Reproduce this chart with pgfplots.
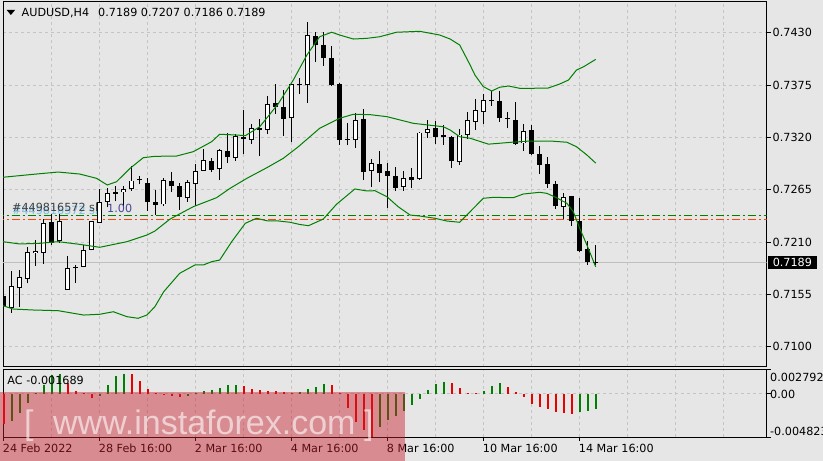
\documentclass[border=0pt]{standalone}
\usepackage{pgfplots}
\pgfplotsset{compat=1.18}
\usepackage{pgfplotstable}
\usepackage{fontspec}
\setmainfont{DejaVu Sans}
\newfontfamily\wmfont{Liberation Sans}

\definecolor{bg}{RGB}{230,230,230}
\definecolor{gridc}{RGB}{196,196,196}
\definecolor{bbgreen}{RGB}{0,128,0}
\definecolor{acgreen}{RGB}{0,128,0}
\definecolor{acred}{RGB}{235,0,0}
\definecolor{slred}{RGB}{255,69,0}
\definecolor{wmred}{RGB}{200,30,40}
\definecolor{pricegray}{RGB}{192,192,192}
\definecolor{lblue}{RGB}{110,185,235}
\definecolor{dblue}{RGB}{70,70,150}

% AUDUSD H4 candles: bar index, open, high, low, close
\pgfplotstableread{
x o h l c
0 0.71526 0.71617 0.70944 0.71438
1 0.71410 0.71796 0.71358 0.71631
2 0.71620 0.71806 0.71421 0.71730
3 0.71719 0.72045 0.71667 0.71992
4 0.71992 0.72118 0.71852 0.72003
5 0.71992 0.72342 0.71873 0.72297
6 0.72308 0.72392 0.72069 0.72097
7 0.72114 0.72392 0.72093 0.72314
8 0.71604 0.71950 0.71600 0.71824
9 0.71831 0.71859 0.71673 0.71835
10 0.71848 0.72069 0.71835 0.72013
11 0.72024 0.72321 0.72013 0.72314
12 0.72308 0.72654 0.72300 0.72514
13 0.72531 0.72665 0.72465 0.72612
14 0.72612 0.72686 0.72531 0.72619
15 0.72626 0.72689 0.72455 0.72654
16 0.72665 0.72902 0.72637 0.72742
17 0.72755 0.72797 0.72707 0.72760
18 0.72717 0.72770 0.72430 0.72524
19 0.72518 0.72647 0.72384 0.72497
20 0.72500 0.72770 0.72482 0.72749
21 0.72742 0.72836 0.72629 0.72692
22 0.72686 0.72721 0.72440 0.72577
23 0.72566 0.72749 0.72524 0.72728
24 0.72713 0.72920 0.72479 0.72844
25 0.72854 0.73078 0.72850 0.72959
26 0.72952 0.72980 0.72833 0.72865
27 0.72871 0.73075 0.72755 0.73064
28 0.73057 0.73246 0.72934 0.72997
29 0.72991 0.73236 0.72955 0.73211
30 0.73204 0.73485 0.73022 0.73186
31 0.73180 0.73341 0.73134 0.73296
32 0.73285 0.73390 0.73008 0.73291
33 0.73285 0.73635 0.73239 0.73548
34 0.73558 0.73761 0.73449 0.73523
35 0.73516 0.73695 0.73218 0.73401
36 0.73411 0.73761 0.73148 0.73751
37 0.73751 0.73827 0.73659 0.73754
38 0.73754 0.74416 0.73565 0.74273
39 0.74263 0.74311 0.73996 0.74178
40 0.74171 0.74311 0.73954 0.74038
41 0.74034 0.74161 0.73740 0.73751
42 0.73751 0.73775 0.73120 0.73176
43 0.73176 0.73351 0.73120 0.73183
44 0.73180 0.73460 0.73092 0.73380
45 0.73390 0.73495 0.72752 0.72839
46 0.72850 0.72973 0.72682 0.72928
47 0.72917 0.73057 0.72734 0.72829
48 0.72847 0.72931 0.72461 0.72797
49 0.72791 0.72889 0.72637 0.72671
50 0.72682 0.72847 0.72637 0.72770
51 0.72784 0.72878 0.72671 0.72755
52 0.72766 0.73260 0.72755 0.73246
53 0.73254 0.73380 0.73197 0.73285
54 0.73296 0.73372 0.73134 0.73207
55 0.73225 0.73330 0.73123 0.73207
56 0.73204 0.73215 0.72882 0.72955
57 0.72945 0.73285 0.72910 0.73225
58 0.73233 0.73470 0.73180 0.73380
59 0.73369 0.73604 0.73278 0.73485
60 0.73470 0.73656 0.73344 0.73590
61 0.73586 0.73688 0.73533 0.73590
62 0.73579 0.73688 0.73365 0.73407
63 0.73401 0.73464 0.73296 0.73397
64 0.73380 0.73572 0.73120 0.73138
65 0.73141 0.73341 0.73057 0.73264
66 0.73275 0.73330 0.73012 0.73033
67 0.73022 0.73113 0.72818 0.72917
68 0.72917 0.72994 0.72671 0.72717
69 0.72707 0.72742 0.72451 0.72486
70 0.72476 0.72616 0.72342 0.72566
71 0.72581 0.72585 0.72272 0.72329
72 0.72321 0.72563 0.71999 0.72009
73 0.72024 0.72111 0.71859 0.71894
74 0.71890 0.72070 0.71860 0.71890
}\candles

% Bollinger bands
\pgfplotstableread{
x y
-0.1 0.72781
3.7 0.72812
6.8 0.72836
9.5 0.72815
11.6 0.72770
12.95 0.72700
14.1 0.72734
15.8 0.72875
17.45 0.72987
18.9 0.73001
21.6 0.73004
23.7 0.73050
26.0 0.73155
27.0 0.73233
29.1 0.73225
30.2 0.73218
32.0 0.73312
34.3 0.73551
36.2 0.73803
37.9 0.74066
39.5 0.74258
41.0 0.74305
42.0 0.74276
43.7 0.74234
45.4 0.74241
47.0 0.74258
49.1 0.74305
52.0 0.74315
54.5 0.74276
55.8 0.74234
57.0 0.74171
58.3 0.73961
58.9 0.73856
59.95 0.73733
61.0 0.73688
62.0 0.73727
63.1 0.73740
64.5 0.73716
68.0 0.73717
69.5 0.73761
70.6 0.73803
71.6 0.73908
72.5 0.73943
74.0 0.74020
}\bbup

\pgfplotstableread{
x y
-0.1 0.72104
2.0 0.72080
4.5 0.72087
6.8 0.72104
9.5 0.72076
12.0 0.72045
15.4 0.72104
17.9 0.72174
18.9 0.72216
20.8 0.72342
23.7 0.72472
26.6 0.72566
28.3 0.72665
30.4 0.72770
32.9 0.72882
34.95 0.72980
36.8 0.73100
39.5 0.73296
42.0 0.73401
43.7 0.73443
45.8 0.73439
47.9 0.73418
51.2 0.73348
54.95 0.73312
55.8 0.73278
57.0 0.73207
58.3 0.73191
60.6 0.73129
63.5 0.73149
65.8 0.73162
68.3 0.73162
70.4 0.73149
71.6 0.73102
72.9 0.73015
74.0 0.72930
}\bbmid

\pgfplotstableread{
x y
-0.1 0.71431
1.2 0.71396
3.7 0.71386
6.8 0.71379
10.0 0.71333
12.0 0.71341
13.7 0.71368
15.4 0.71316
16.8 0.71299
17.9 0.71333
18.9 0.71421
20.0 0.71578
22.0 0.71772
23.9 0.71859
24.95 0.71859
26.0 0.71894
27.0 0.71911
28.5 0.72104
30.2 0.72297
31.6 0.72350
32.9 0.72324
34.1 0.72324
35.8 0.72308
37.0 0.72285
38.1 0.72272
39.95 0.72342
41.6 0.72497
43.9 0.72658
45.4 0.72637
46.4 0.72640
47.9 0.72577
49.3 0.72472
50.8 0.72384
52.0 0.72374
53.9 0.72350
55.4 0.72321
57.0 0.72308
58.3 0.72419
59.95 0.72560
61.2 0.72570
63.7 0.72566
64.95 0.72605
67.0 0.72623
67.9 0.72612
69.1 0.72566
70.4 0.72507
71.2 0.72419
72.0 0.72245
72.9 0.72069
74.0 0.71840
}\bblow

% Accelerator oscillator: value, g=1 rising (green) / 0 falling (red)
\pgfplotstableread{
x v g
0 -0.00338 0
1 -0.00301 1
2 -0.00218 1
3 -0.00105 1
4 0.00010 1
5 0.00102 1
6 0.00214 1
7 0.00226 1
8 0.00128 0
9 0.00034 0
10 0.00008 0
11 -0.00049 0
12 -0.00020 1
13 0.00102 1
14 0.00203 1
15 0.00226 1
16 0.00224 0
17 0.00147 0
18 0.00053 0
19 0.00005 0
20 -0.00012 0
21 -0.00020 0
22 -0.00035 0
23 -0.00020 1
24 0.00005 1
25 0.00034 1
26 0.00045 1
27 0.00064 1
28 0.00100 1
29 0.00105 1
30 0.00090 0
31 0.00053 0
32 0.00045 0
33 0.00038 0
34 0.00034 0
35 0.00019 0
36 0.00015 0
37 0.00019 1
38 0.00053 1
39 0.00075 1
40 0.00113 1
41 0.00102 0
42 0.00008 0
43 -0.00162 0
44 -0.00312 0
45 -0.00399 0
46 -0.00482 0
47 -0.00368 1
48 -0.00293 1
49 -0.00244 1
50 -0.00188 1
51 -0.00124 1
52 -0.00056 1
53 0.00045 1
54 0.00113 1
55 0.00139 1
56 0.00128 0
57 0.00071 0
58 0.00015 0
59 0.00010 0
60 0.00034 1
61 0.00090 1
62 0.00128 1
63 0.00082 0
64 0.00026 0
65 -0.00038 0
66 -0.00113 0
67 -0.00150 0
68 -0.00169 0
69 -0.00199 0
70 -0.00218 0
71 -0.00222 0
72 -0.00207 1
73 -0.00195 1
74 -0.001689 1
}\actab

\pgfplotsset{
  mt/.style={
    scale only axis, width=763.7pt, anchor=south west,
    xmin=-0.0875, xmax=95.375,
    axis line style={line width=1pt, black},
    xtick={0,6,...,90}, xticklabels={}, xtick style={draw=none},
    yticklabels={}, ytick pos=right, tick align=outside,
    scaled y ticks=false, scaled x ticks=false,
    major tick length=4pt, ytick style={line width=1pt, black},
    grid=major, grid style={gridc, line width=1pt, dash pattern=on 3pt off 3pt},
    clip mode=individual,
  }
}

\begin{document}
\fontsize{11.2}{13}\selectfont
\begin{tikzpicture}[x=1pt,y=1pt]
\useasboundingbox (0,0) rectangle (823,461);
\fill[bg] (0,0) rectangle (823,461);

% price panel
\begin{axis}[mt, at={(3pt,94pt)}, height=365pt,
  ymin=0.70787, ymax=0.74623,
  ytick={0.7100,0.7155,0.7210,0.7265,0.7320,0.7375,0.7430}]
\addplot[pricegray, line width=1pt, mark=none] coordinates {(-1,0.7189) (96,0.7189)};
\addplot[draw=bbgreen, line width=1pt, mark=none, dash pattern=on 8pt off 3pt on 2pt off 3pt]
  coordinates {(-1,0.72381) (96,0.72381)};
\addplot[draw=slred, line width=1pt, mark=none, dash pattern=on 8pt off 3pt on 2pt off 3pt]
  coordinates {(-1,0.72339) (96,0.72339)};
% wicks
\addplot[black, line width=1pt, mark=none, quiver={u=0, v=\thisrow{h}-\thisrow{l}}]
  table[x=x, y=l] {\candles};
% bodies: black outline, then white inside for rising bars
\addplot[black, line width=5pt, mark=none,
  quiver={u=0, v={abs(\thisrow{c}-\thisrow{o})+0.0001}}]
  table[x=x, y expr={min(\thisrow{o},\thisrow{c})-0.00005}] {\candles};
\addplot[white, line width=3pt, mark=none,
  quiver={u=0, v={(\thisrow{c}>\thisrow{o})*max(\thisrow{c}-\thisrow{o}-0.0001,0)}}]
  table[x=x, y expr={min(\thisrow{o},\thisrow{c})+0.00005}] {\candles};
% Bollinger bands
\addplot[bbgreen, line width=1pt, mark=none] table[x=x, y=y] {\bbup};
\addplot[bbgreen, line width=1pt, mark=none] table[x=x, y=y] {\bbmid};
\addplot[bbgreen, line width=1pt, mark=none] table[x=x, y=y] {\bblow};

\node[anchor=west, inner sep=0pt, xshift=5.8pt] at (axis cs:95.375,0.7430) {0.7430};
\node[anchor=west, inner sep=0pt, xshift=5.8pt] at (axis cs:95.375,0.7375) {0.7375};
\node[anchor=west, inner sep=0pt, xshift=5.8pt] at (axis cs:95.375,0.7320) {0.7320};
\node[anchor=west, inner sep=0pt, xshift=5.8pt] at (axis cs:95.375,0.7265) {0.7265};
\node[anchor=west, inner sep=0pt, xshift=5.8pt] at (axis cs:95.375,0.7210) {0.7210};
\node[anchor=west, inner sep=0pt, xshift=5.8pt] at (axis cs:95.375,0.7155) {0.7155};
\node[anchor=west, inner sep=0pt, xshift=5.8pt] at (axis cs:95.375,0.7100) {0.7100};
\node[anchor=west, fill=black, text=white, inner sep=0pt, minimum width=49pt,
  minimum height=13pt, xshift=1pt] at (axis cs:95.375,0.7189) {0.7189};
\end{axis}

% accelerator panel
\begin{axis}[mt, at={(3pt,24pt)}, height=68pt,
  ymin=-0.004823, ymax=0.002792,
  ytick={0}, extra y ticks={-0.004823,0.002792}, extra y tick labels={},
  extra y tick style={grid=none}]
\addplot[acgreen, line width=2pt, mark=none, quiver={u=0, v=\thisrow{v}*\thisrow{g}}]
  table[x=x, y expr=0] {\actab};
\addplot[acred, line width=2pt, mark=none, quiver={u=0, v=\thisrow{v}*(1-\thisrow{g})}]
  table[x=x, y expr=0] {\actab};
\end{axis}

% header and labels
\fill[black] (6.7,451) -- (15,451) -- (10.85,446) -- cycle;
\node[anchor=base west, inner sep=0pt] at (21.5,444.3) {AUDUSD,H4\hspace{9pt}0.7189 0.7207 0.7186 0.7189};
\node[anchor=base west, inner sep=0pt, text=lblue, text opacity=0.9] at (12,246) {\#449816572 sl};
\node[anchor=base west, inner sep=0pt, text=black!75] at (12,249.5) {\#449816572 sl};
\node[anchor=base west, inner sep=0pt, text=dblue] at (107,248.3) {1.00};

\node[anchor=base west, inner sep=0pt] at (7.3,76.7) {AC -0.001689};
\node[anchor=west, inner sep=0pt] at (770,83.7) {0.002792};
\node[anchor=west, inner sep=0pt] at (770,67) {0.00};
\node[anchor=west, inner sep=0pt] at (770,30) {-0.004823};

\foreach \tx in {3.7,99.7,195.7,291.7,387.7,483.7,579.7}
  \draw[black, line width=1pt] (\tx,24) -- (\tx,20);
\node[anchor=base west, inner sep=0pt] at (2.7,9) {24 Feb 2022};
\node[anchor=base west, inner sep=0pt] at (98.7,9) {28 Feb 16:00};
\node[anchor=base west, inner sep=0pt] at (194.7,9) {2 Mar 16:00};
\node[anchor=base west, inner sep=0pt] at (290.7,9) {4 Mar 16:00};
\node[anchor=base west, inner sep=0pt] at (386.7,9) {8 Mar 16:00};
\node[anchor=base west, inner sep=0pt] at (482.7,9) {10 Mar 16:00};
\node[anchor=base west, inner sep=0pt] at (578.7,9) {14 Mar 16:00};

% watermark
\fill[wmred, fill opacity=0.45] (0,0) rectangle (405,69);
\begin{scope}[every node/.style={anchor=base west, inner sep=0pt, text=white, text opacity=0.6,
  font=\wmfont\fontsize{34}{40}\selectfont}]
\node at (24,26) {[};
\node at (53,26) {www.instaforex.com};
\node at (364,26) {]};
\end{scope}
\end{tikzpicture}
\end{document}
